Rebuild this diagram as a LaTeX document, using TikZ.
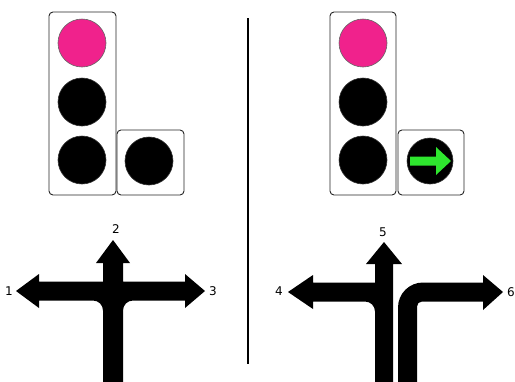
\documentclass[tikz,border=0pt]{standalone}
\usepackage{fontspec}
\setmainfont{DejaVu Sans}
\definecolor{sigpink}{HTML}{F0228C}
\definecolor{siggreen}{HTML}{2EE62E}
\begin{document}
\begin{tikzpicture}[x=1pt,y=-1pt,
  housing/.style={draw=black!85,line width=0.9pt,rounded corners=4pt,fill=white},
  lamp/.style={circle,minimum size=48pt,inner sep=0pt,fill=black,draw=black!80,line width=0.6pt},
  redlamp/.style={lamp,fill=sigpink,draw=black!60},
  lanefill/.style={fill=black},
  lbl/.style={font=\fontsize{12}{12}\selectfont,inner sep=0pt}]
\useasboundingbox (0,0) rectangle (515,381);
% left signal
\draw[housing] (49,12) rectangle (116,195);
\draw[housing] (117,130) rectangle (184,195);
\node[redlamp] (lr) at (82,43) {};
\node[lamp] (ly) at (82,102) {};
\node[lamp] (lg) at (82,160) {};
\node[lamp] (lx) at (149,161) {};
% divider
\coordinate (dv1) at (248,18);
\coordinate (dv2) at (248,364);
\draw[line width=1.6pt] (dv1) -- (dv2);
% right signal
\draw[housing] (330,12) rectangle (396,195);
\draw[housing] (398,130) rectangle (464,195);
\node[redlamp] (rr) at (363,43) {};
\node[lamp] (ry) at (363,102) {};
\node[lamp] (rg) at (363,160) {};
\node[lamp,minimum size=46pt] (rx) at (430,161) {};
\fill[siggreen] (410,156.5) -- (436,156.5) -- (436,147) -- (451,161) -- (436,175) -- (436,165.5) -- (410,165.5) -- cycle;
% left arrows 1, 2, 3
\fill[lanefill] (103,383) -- (103,310.5) arc[start angle=0,end angle=-90,radius=10]
  -- (39,300.5) -- (39,308) -- (16,291) -- (39,274) -- (39,281.5) -- (103,281.5)
  -- (103,263) -- (96,263) -- (113,240) -- (130,263) -- (123,263) -- (123,281.5)
  -- (185,281.5) -- (185,274) -- (205,291) -- (185,308) -- (185,300.5) -- (133,300.5)
  arc[start angle=270,end angle=180,radius=10] -- (123,383) -- cycle;
\node[lbl] (l1) at (9,291) {1};
\node[lbl] (l2) at (116,229) {2};
\node[lbl] (l3) at (213,291) {3};
% right arrows 4, 5
\fill[lanefill] (375,383) -- (375,311.5) arc[start angle=0,end angle=-90,radius=10]
  -- (313,301.5) -- (313,309) -- (288,292) -- (313,275) -- (313,282.5) -- (375,282.5)
  -- (375,264) -- (366,264) -- (384,242) -- (402,264) -- (393,264) -- (393,383) -- cycle;
% right turn arrow 6
\fill[lanefill] (398,383) -- (398,307.5) arc[start angle=180,end angle=270,radius=25]
  -- (483,282.5) -- (483,275) -- (503,292) -- (483,310) -- (483,301.5) -- (422,301.5)
  arc[start angle=270,end angle=180,radius=5] -- (417,383) -- cycle;
\node[lbl] (l4) at (279,291) {4};
\node[lbl] (l5) at (383,232) {5};
\node[lbl] (l6) at (511,292) {6};
\end{tikzpicture}
\end{document}
